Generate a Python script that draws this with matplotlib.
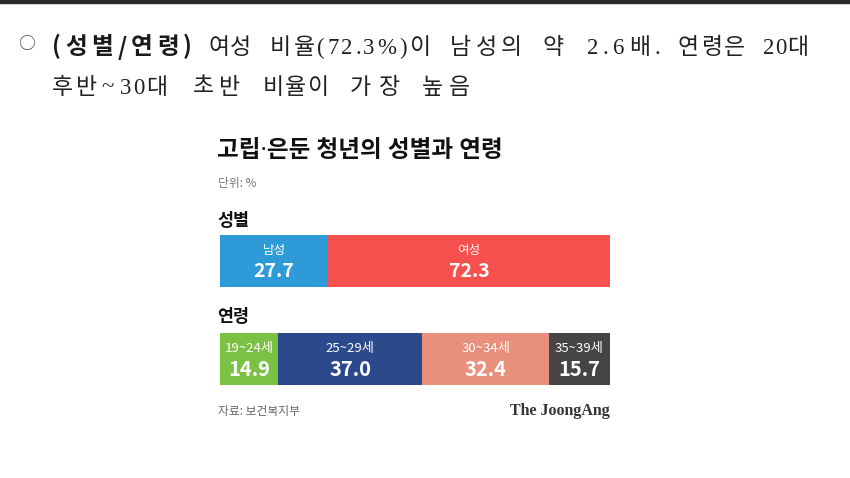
import matplotlib
matplotlib.use("Agg")
import matplotlib.pyplot as plt
from matplotlib.patches import Rectangle
import numpy as np

plt.rcParams['font.family'] = ['Noto Sans CJK KR', 'DejaVu Sans']

# ---- data ----
gender_labels = ['남성', '여성']
gender_values = [27.7, 72.3]
gender_colors = ['#2e9bd8', '#f6514f']

age_labels = ['19~24세', '25~29세', '30~34세', '35~39세']
age_values = [14.9, 37.0, 32.4, 15.7]
age_colors = ['#7bc143', '#2c4a8b', '#e8907c', '#454545']

title = '고립·은둔 청년의 성별과 연령'
unit_text = '단위: %'
source_text = '자료: 보건복지부'
brand_text = 'The JoongAng'

# header words
line1_words = ['(성별/연령)', '여성', '비율(72.3%)이', '남성의', '약', '2.6배.', '연령은', '20대']
line1_x0 = [52, 210, 270, 450, 543, 587, 678, 763]
line1_x1 = [192, 250, 430, 522, 563, 660, 745, 808]
line2_words = ['후반', '~', '30대', '초반', '비율이', '가장', '높음']
line2_x0 = [52, 103, 120, 193, 263, 350, 422]
line2_x1 = [97, 113, 167, 240, 328, 400, 470]

W, H = 850, 478
fig = plt.figure(figsize=(W / 100, H / 100), dpi=100)
fig.patch.set_facecolor('white')
renderer = fig.canvas.get_renderer()


def fx(x):
    return x / W


def fy(y):
    return 1 - y / H


def tracked(word, x0, x1, ybase, **kw):
    widths = []
    for ch in word:
        t = fig.text(0, 0, ch, **kw)
        widths.append(t.get_window_extent(renderer).width)
        t.remove()
    n = len(word)
    extra = (x1 - x0 - sum(widths)) / (n - 1) if n > 1 else 0
    extra = max(extra, 0.5)
    total = sum(widths) + extra * (n - 1)
    x = (x0 + x1) / 2 - total / 2
    for ch, w in zip(word, widths):
        fig.text(fx(x), fy(ybase), ch, ha='left', va='baseline', **kw)
        x += w + extra


# top dark strip
fig.patches.append(Rectangle((0, fy(3)), 1, 3 / H, transform=fig.transFigure,
                             color='#2a2a2a', zorder=0))

serif_mix = ['Liberation Serif', 'Noto Sans CJK KR']

# bullet
fig.text(fx(26), fy(45), '○', fontsize=12, color='#444444', ha='center', va='center',
         family=['Noto Sans CJK KR'])
for i, (w, a, b) in enumerate(zip(line1_words, line1_x0, line1_x1)):
    if i == 0:
        tracked(w, a, b, 54.5, fontsize=17, color='#1a1a1a',
                family=['Noto Sans CJK KR'], fontweight='bold')
    else:
        tracked(w, a, b, 54.5, fontsize=16.5, color='#222222', family=serif_mix)
for w, a, b in zip(line2_words, line2_x0, line2_x1):
    tracked(w, a, b, 93.5, fontsize=16.5, color='#222222', family=serif_mix)

# chart texts
fig.text(fx(217), fy(151), title, fontsize=17, fontweight='bold', color='#111111',
         ha='left', va='center', family=['Noto Sans', 'Noto Sans CJK KR'])
fig.text(fx(218), fy(183), unit_text, fontsize=8.5, color='#777777', ha='left', va='center')
fig.text(fx(217), fy(221), '성별', fontsize=12.5, fontweight='bold', color='#111111',
         ha='left', va='center')
fig.text(fx(217), fy(317), '연령', fontsize=12.5, fontweight='bold', color='#111111',
         ha='left', va='center')
fig.text(fx(218), fy(411), source_text, fontsize=8.5, color='#666666', ha='left', va='center')
fig.text(fx(610), fy(411), brand_text, fontsize=11.5, fontweight='bold', color='#333333',
         ha='right', va='center', family=['Liberation Serif'])


def stacked(top, bottom, labels, values, colors, lab_fs, val_fs):
    ax = fig.add_axes([fx(220), fy(bottom), fx(610) - fx(220), (bottom - top) / H])
    lefts = np.concatenate([[0], np.cumsum(values)[:-1]])
    ax.barh([0], values, left=lefts, height=1.0, color=colors, edgecolor='none')
    ax.set_xlim(0, sum(values))
    ax.set_ylim(-0.5, 0.5)
    ax.axis('off')
    for l, v, lab in zip(lefts, values, labels):
        ax.text(l + v / 2, 0.21, lab, fontsize=lab_fs, color='white', ha='center', va='center')
        ax.text(l + v / 2, -0.2, f'{v:.1f}', fontsize=val_fs, fontweight='bold',
                color='white', ha='center', va='center')
    return ax


stacked(235, 287, gender_labels, gender_values, gender_colors, 9, 14)
stacked(333, 385, age_labels, age_values, age_colors, 9.5, 14.5)

fig.savefig('out.png', dpi=100, facecolor='white')
